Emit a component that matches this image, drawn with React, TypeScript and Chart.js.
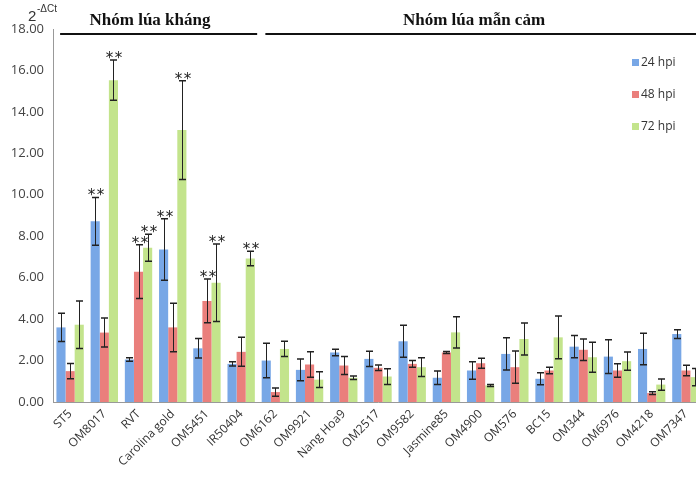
import React, { useEffect, useRef } from "react";
import { Chart, registerables } from "chart.js";

Chart.register(...registerables);

const categories = [
  "ST5", "OM8017", "RVT", "Carolina gold", "OM5451", "IR50404", "OM6162", "OM9921",
  "Nang Hoa9", "OM2517", "OM9582", "Jasmine85", "OM4900", "OM576", "BC15", "OM344",
  "OM6976", "OM4218", "OM7347",
];
const seriesLabels = ["24 hpi", "48 hpi", "72 hpi"];
const values24 = [3.6, 8.72, 2.05, 7.36, 2.59, 1.84, 2.0, 1.55, 2.39, 2.08, 2.93, 1.17, 1.52, 2.32, 1.12, 2.67, 2.19, 2.56, 3.28];
const values48 = [1.49, 3.35, 6.29, 3.6, 4.88, 2.42, 0.48, 1.81, 1.76, 1.65, 1.84, 2.39, 1.87, 1.68, 1.52, 2.52, 1.52, 0.43, 1.52];
const values72 = [3.73, 15.53, 7.44, 13.12, 5.75, 6.93, 2.56, 1.08, 1.17, 1.23, 1.68, 3.36, 0.8, 3.04, 3.12, 2.16, 1.97, 0.84, 1.2];
const errors24 = [0.68, 1.15, 0.08, 1.48, 0.47, 0.1, 0.83, 0.53, 0.16, 0.37, 0.77, 0.33, 0.42, 0.78, 0.29, 0.54, 0.81, 0.76, 0.21];
const errors48 = [0.37, 0.7, 1.3, 1.17, 1.05, 0.7, 0.2, 0.62, 0.43, 0.13, 0.16, 0.05, 0.24, 0.78, 0.16, 0.52, 0.32, 0.07, 0.25];
const errors72 = [1.15, 0.97, 0.65, 2.38, 1.87, 0.35, 0.37, 0.38, 0.08, 0.38, 0.45, 0.75, 0.05, 0.77, 1.03, 0.72, 0.44, 0.27, 0.42];
const sig24 = [0, 1, 0, 1, 0, 0, 0, 0, 0, 0, 0, 0, 0, 0, 0, 0, 0, 0, 0];
const sig48 = [0, 0, 1, 0, 1, 0, 0, 0, 0, 0, 0, 0, 0, 0, 0, 0, 0, 0, 0];
const sig72 = [0, 1, 1, 1, 1, 1, 0, 0, 0, 0, 0, 0, 0, 0, 0, 0, 0, 0, 0];
const yTicks = [0, 2, 4, 6, 8, 10, 12, 14, 16, 18];
const groupLabels = ["Nhóm lúa kháng", "Nhóm lúa mẫn cảm"];
const groupStarts = [0, 6];
const groupEnds = [5, 18];

const colors = ["#78a7e6", "#ea7f7c", "#c3e48c"];
const errorsAll = [errors24, errors48, errors72];
const sigAll = [sig24, sig48, sig72];

const overlayPlugin = {
  id: "overlay",
  afterDatasetsDraw(chart: any) {
    const ctx = chart.ctx;
    const y = chart.scales.y;
    const x = chart.scales.x;
    ctx.save();
    chart.data.datasets.forEach((ds: any, di: number) => {
      const meta = chart.getDatasetMeta(di);
      meta.data.forEach((bar: any, i: number) => {
        const v = ds.data[i];
        const e = errorsAll[di][i];
        const top = y.getPixelForValue(v + e);
        const bot = y.getPixelForValue(v - e);
        const cx = Math.round(bar.x) + 0.5;
        ctx.strokeStyle = "#222";
        ctx.lineWidth = 1;
        ctx.beginPath();
        ctx.moveTo(cx, top);
        ctx.lineTo(cx, bot);
        ctx.stroke();
        ctx.lineWidth = 1.5;
        ctx.beginPath();
        ctx.moveTo(cx - 3.5, top);
        ctx.lineTo(cx + 3.5, top);
        ctx.moveTo(cx - 3.5, bot);
        ctx.lineTo(cx + 3.5, bot);
        ctx.stroke();
        if (sigAll[di][i]) {
          ctx.fillStyle = "#222";
          ctx.font = "15px 'DejaVu Sans'";
          ctx.textAlign = "center";
          ctx.textBaseline = "alphabetic";
          ctx.fillText("*", cx - 4, top + 3);
          ctx.fillText("*", cx + 5, top + 3);
        }
      });
    });
    groupLabels.forEach((lab, g) => {
      const x0 = x.getPixelForValue(groupStarts[g]) - 10;
      const x1 = x.getPixelForValue(groupEnds[g]) + 16;
      ctx.strokeStyle = "#111";
      ctx.lineWidth = 2;
      ctx.beginPath();
      ctx.moveTo(x0, 34);
      ctx.lineTo(x1, 34);
      ctx.stroke();
      ctx.fillStyle = "#111";
      ctx.font = "bold 17px 'Liberation Serif'";
      ctx.textAlign = "center";
      ctx.textBaseline = "alphabetic";
      const cx = g === 0 ? 150 : 474;
      ctx.fillText(lab, cx, 25);
    });
    ctx.fillStyle = "#333";
    ctx.textAlign = "left";
    ctx.font = "15px 'Liberation Sans'";
    ctx.fillText("2", 28, 21);
    ctx.font = "10px 'Liberation Sans'";
    ctx.fillText("-ΔCt", 37, 12);
    chart.data.datasets.forEach((ds: any, di: number) => {
      const ly = 63 + di * 32;
      ctx.fillStyle = colors[di];
      ctx.fillRect(632, ly - 4, 7, 7);
      ctx.fillStyle = "#333";
      ctx.font = "12px 'Open Sans'";
      ctx.textBaseline = "middle";
      ctx.fillText(ds.label, 641, ly);
    });
    ctx.restore();
  },
};

export default function App() {
  const ref = useRef<HTMLCanvasElement>(null);
  useEffect(() => {
    if (!ref.current) return;
    const chart = new Chart(ref.current, {
      type: "bar",
      data: {
        labels: categories,
        datasets: [values24, values48, values72].map((d, i) => ({
          label: seriesLabels[i],
          data: d,
          backgroundColor: colors[i],
          borderWidth: 0,
          categoryPercentage: 0.8,
          barPercentage: 1.0,
        })),
      },
      options: {
        animation: false,
        responsive: false,
        maintainAspectRatio: false,
        layout: { padding: { top: 29, right: 0, left: 0, bottom: 0 } },
        plugins: { legend: { display: false }, tooltip: { enabled: false } },
        scales: {
          x: {
            grid: { display: false, drawTicks: true, tickLength: 5, offset: true, color: "#999" },
            border: { color: "#999" },
            ticks: {
              maxRotation: 45,
              minRotation: 45,
              autoSkip: false,
              color: "#333",
              font: { family: "'Open Sans'", size: 12 },
              padding: 0,
            },
            afterFit: (s: any) => { s.height = 79; },
          },
          y: {
            min: 0,
            max: 18,
            afterBuildTicks: (s: any) => { s.ticks = yTicks.map((v) => ({ value: v })); },
            grid: { display: false, drawTicks: true, tickLength: 4, color: "#999" },
            border: { color: "#999" },
            ticks: {
              color: "#444",
              font: { family: "'Open Sans'", size: 13 },
              callback: (v: any) => Number(v).toFixed(2),
              padding: 5,
            },
            afterFit: (s: any) => { s.width = 53; },
          },
        },
      },
      plugins: [overlayPlugin],
    });
    return () => chart.destroy();
  }, []);
  return (
    <div style={{ position: "fixed", left: 0, top: 0, width: 696, height: 481, overflow: "hidden", background: "#fff" }}>
      <canvas ref={ref} width={703} height={481} style={{ width: 703, height: 481, display: "block" }} />
    </div>
  );
}
